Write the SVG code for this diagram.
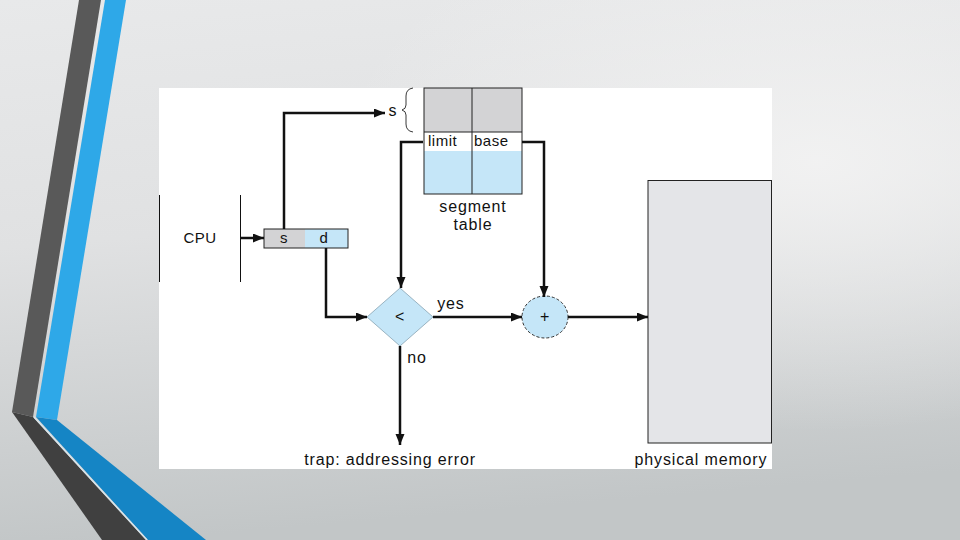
<svg xmlns="http://www.w3.org/2000/svg" width="960" height="540" viewBox="0 0 960 540">
<defs>
<linearGradient id="bg" x1="0" y1="0" x2="0.15" y2="1">
<stop offset="0" stop-color="#e8e9ea"/>
<stop offset="0.45" stop-color="#e0e1e2"/>
<stop offset="1" stop-color="#c2c6c7"/>
</linearGradient>
<radialGradient id="hl" cx="0.85" cy="0.3" r="0.5">
<stop offset="0" stop-color="#f3f3f3" stop-opacity="0.9"/>
<stop offset="1" stop-color="#f3f3f3" stop-opacity="0"/>
</radialGradient>
<marker id="ah" markerUnits="userSpaceOnUse" markerWidth="12" markerHeight="10" refX="11" refY="4.5" orient="auto">
<path d="M0,0 L11,4.5 L0,9 z" fill="#111"/>
</marker>
<style>
.t{font-family:"Liberation Sans",Arial,sans-serif;font-size:16px;fill:#111;letter-spacing:0.85px}
.ts{font-family:"Liberation Sans",Arial,sans-serif;font-size:15px;fill:#111;letter-spacing:0.5px}
.c{fill:none;stroke:#111;stroke-width:2.5;marker-end:url(#ah)}
.box{stroke:#222;stroke-width:1}
</style>
</defs>
<rect width="960" height="540" fill="url(#bg)"/>
<rect width="960" height="540" fill="url(#hl)"/>
<!-- decoration -->
<polygon points="79,0 101,0 33,417 12,412" fill="#595959"/>
<polygon points="12,412 33,417 146,540 102,540" fill="#404040"/>
<polygon points="105,0 126,0 57,420 36,417" fill="#2ea8e8"/>
<polygon points="36,417 57,420 206,540 148,540" fill="#1585c5"/>
<line x1="34" y1="417" x2="147" y2="540" stroke="#d8e4ea" stroke-width="1.5"/>
<!-- panel -->
<rect x="159" y="88" width="613" height="381" fill="#ffffff"/>

<g id="cpu">
<line x1="159.5" y1="195" x2="159.5" y2="282" stroke="#111" stroke-width="1"/>
<line x1="240.5" y1="195" x2="240.5" y2="282" stroke="#111" stroke-width="1"/>
<text class="ts" x="200" y="243" text-anchor="middle">CPU</text>
</g>

<g id="address">
<rect x="264" y="229" width="41" height="19" fill="#d3d3d5"/>
<rect x="305" y="229" width="43" height="19" fill="#c5e6f8"/>
<rect x="264" y="229" width="84" height="19" fill="none" class="box"/>
<text class="ts" x="284" y="243" text-anchor="middle">s</text>
<text class="ts" x="324" y="243" text-anchor="middle">d</text>
</g>

<g id="segment-table">
<rect x="424" y="88" width="98" height="44" fill="#d3d3d5"/>
<rect x="424" y="132" width="98" height="19" fill="#ffffff"/>
<rect x="424" y="151" width="98" height="43" fill="#c5e6f8"/>
<rect x="424" y="88" width="98" height="106" fill="none" class="box"/>
<line x1="424" y1="132" x2="522" y2="132" class="box"/>
<line x1="472" y1="88" x2="472" y2="194" class="box"/>
<text class="ts" x="428" y="146">limit</text>
<text class="ts" x="474" y="146">base</text>
<text class="t" x="473" y="212" text-anchor="middle">segment</text>
<text class="t" x="473" y="230" text-anchor="middle">table</text>
<text class="t" x="393" y="116" text-anchor="middle">s</text>
<path d="M413,88 Q406,89 406,96 L406,105 Q406,109 402,110 Q406,111 406,115 L406,124 Q406,131 413,132" fill="none" stroke="#222" stroke-width="0.9"/>
</g>

<g id="compare">
<polygon points="400,288 433,317 400,346 367,317" fill="#c5e6f8" stroke="#6a8a9a" stroke-width="0.6"/>
<text class="t" x="400" y="322" text-anchor="middle">&lt;</text>
</g>

<g id="adder">
<ellipse cx="545" cy="317" rx="23" ry="21" fill="#c5e6f8" stroke="#333" stroke-width="1" stroke-dasharray="3,2"/>
<text class="t" x="545" y="322" text-anchor="middle">+</text>
</g>

<g id="physical-memory">
<rect x="648" y="180.5" width="123.5" height="262.5" fill="#e4e5e8" class="box"/>
<text class="t" x="701" y="465" text-anchor="middle">physical memory</text>
</g>

<g id="trap">
<text class="t" x="390" y="465" text-anchor="middle">trap: addressing error</text>
</g>

<g id="connectors">
<path class="c" d="M241,238 L264,238"/>
<path class="c" d="M284,229 L284,113 L385,113"/>
<path class="c" d="M423,142 L401,142 L401,288"/>
<path class="c" d="M522,142 L544,142 L544,297"/>
<path class="c" d="M326,248 L326,317 L367,317"/>
<path class="c" d="M433,317 L522,317"/>
<path class="c" d="M568,317 L648,317"/>
<path class="c" d="M400,346 L400,445"/>
<text class="t" x="451" y="309" text-anchor="middle">yes</text>
<text class="t" x="417" y="363" text-anchor="middle">no</text>
</g>
</svg>
